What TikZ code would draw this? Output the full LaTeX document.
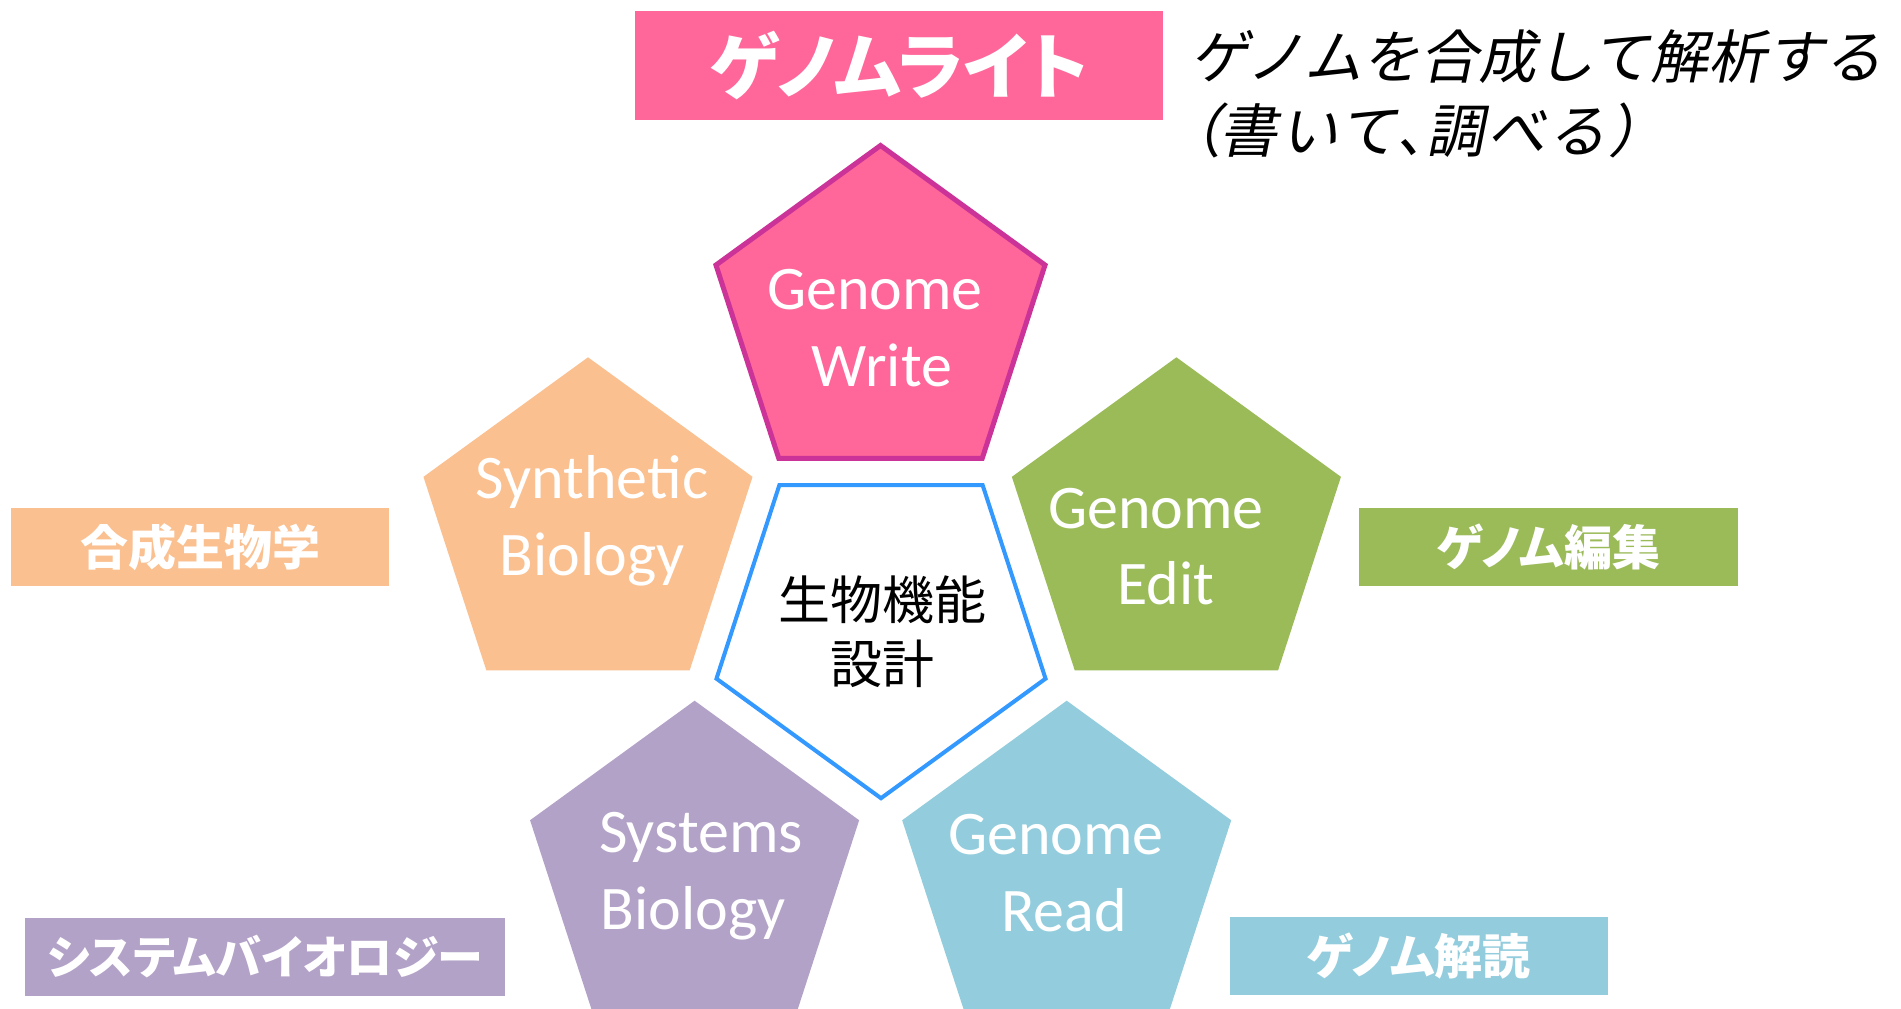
\documentclass[tikz,border=0pt]{standalone}
\usepackage{fontspec}
\setmainfont{Carlito}
\newfontfamily\jpreg{Noto Sans CJK JP}
\newfontfamily\jplab[RawFeature=+palt]{Noto Sans CJK JP}
\newfontfamily\jpit[FakeSlant=0.2]{Noto Sans CJK JP}
\newfontfamily\jpitls[FakeSlant=0.2,LetterSpace=5]{Noto Sans CJK JP}
\newfontfamily\jpitp[FakeSlant=0.2,RawFeature=+palt,LetterSpace=5]{Noto Sans CJK JP}
\definecolor{writefill}{HTML}{FF6699}
\definecolor{writeline}{HTML}{CC3399}
\definecolor{synfill}{HTML}{FAC090}
\definecolor{editfill}{HTML}{9BBB59}
\definecolor{sysfill}{HTML}{B3A2C7}
\definecolor{readfill}{HTML}{93CDDD}
\definecolor{coreline}{HTML}{3399FF}
\tikzset{
  pentup/.pic={\path[pic actions] (-90:173) -- (-18:173) -- (54:173) -- (126:173) -- (198:173) -- cycle;},
  pentdown/.pic={\path[pic actions] (90:173) -- (162:173) -- (234:173) -- (306:173) -- (18:173) -- cycle;},
  entxt/.style={text=white, align=center, inner sep=0pt, font=\fontsize{62}{76.7}\selectfont},
  lblbox/.style={rectangle, inner sep=0pt, text=white, font=\jplab\bfseries\fontsize{48}{58}\selectfont},
}
\begin{document}
\begin{tikzpicture}[x=1pt,y=-1pt]
\useasboundingbox (0,0) rectangle (1901,1009);
\fill[white] (0,0) rectangle (1901,1009);
\begin{scope}
\clip (0,0) rectangle (1901,1009);
% pentagons
\pic[fill=writefill, draw=writeline, line width=5pt] at (880.5,318.5) {pentup};
\pic[fill=synfill] at (588,530.3) {pentup};
\pic[fill=editfill] at (1176.4,530.3) {pentup};
\pic[fill=sysfill] at (694.6,873.7) {pentup};
\pic[fill=readfill] at (1066.7,873.7) {pentup};
\pic[fill=white, draw=coreline, line width=4pt] at (881,625.2) {pentdown};
\end{scope}
% pentagon texts
\node[entxt] (tw) at (875,328.2) {Genome\\\kern14pt Write};
\node[entxt] (ts) at (592,520.7) {Synthetic\\Biology};
\node[entxt] (te) at (1156,546.5) {Genome\\\kern20pt Edit};
\node[entxt] (ty) at (701,876) {Systems\\Biology\kern16pt};
\node[entxt] (tr) at (1056,873.2) {Genome\\\kern16pt Read};
\node[align=center, inner sep=0pt, font=\jpreg\fontsize{52}{63.4}\selectfont] (tc) at (882.7,631.7) {生物機能\\設計};
% label boxes
\node[lblbox, fill=writefill, minimum width=528pt, minimum height=109.5pt, font=\jplab\bfseries\fontsize{72}{80}\selectfont] (lw) at (899,65.7) {ゲノムライト};
\node[lblbox, fill=synfill, minimum width=378pt, minimum height=78pt] (ls) at (200,547) {合成生物学};
\node[lblbox, fill=editfill, minimum width=379pt, minimum height=78pt] (le) at (1548.5,547) {ゲノム編集};
\node[lblbox, fill=sysfill, minimum width=480pt, minimum height=77.7pt, font=\jplab\bfseries\fontsize{46}{58}\selectfont] (ly) at (265,956.9) {システムバイオロジー};
\node[lblbox, fill=readfill, minimum width=378pt, minimum height=77.7pt] (lr) at (1419,955.9) {ゲノム解読};
% top-right caption
\node[anchor=west, align=left, inner sep=0pt, font=\fontsize{58}{74}\selectfont] (cap) at (1190,94) {{\jpit ゲノムを合成して解析する}\\{\jpitp （}{\jpitls 書いて}{\jpitp 、}{\jpitls 調べる）}};
\end{tikzpicture}
\end{document}
